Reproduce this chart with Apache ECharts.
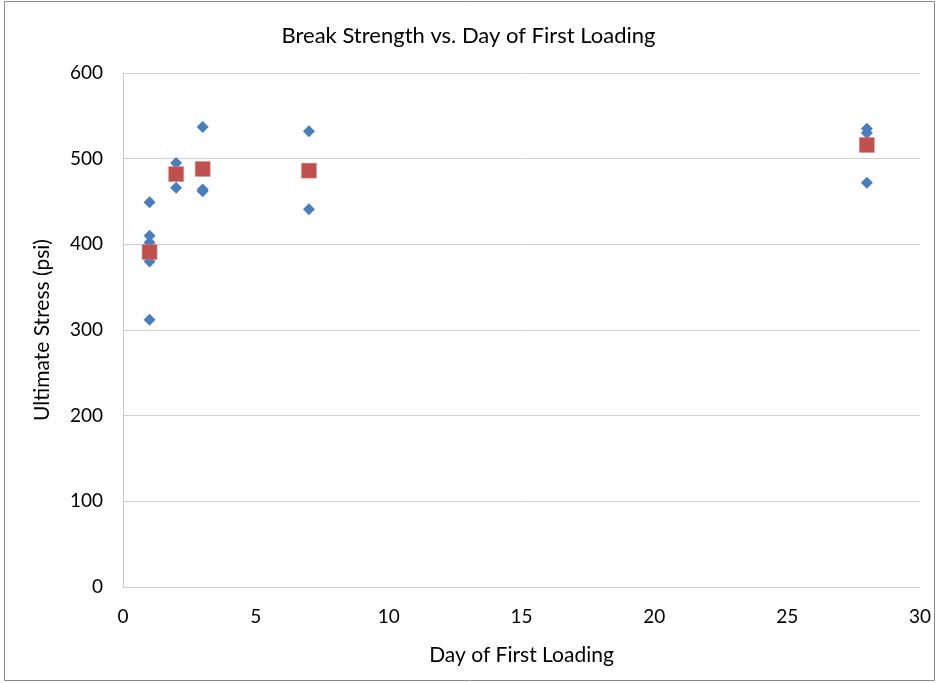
<!DOCTYPE html>
<html>
<head>
<meta charset="utf-8">
<script src="https://cdn.jsdelivr.net/npm/echarts@6/dist/echarts.min.js"></script>
<style>
  html, body { margin: 0; padding: 0; background: #fff; }
  #chart { width: 937px; height: 683px; }
</style>
</head>
<body>
<div id="chart"></div>
<script>
// individual test results: [day, stress]
const days = [1, 1, 1, 1, 1, 2, 2, 2, 3, 3, 3, 7, 7, 28, 28, 28, 28];
const stress = [449, 410, 402, 380, 312, 495, 483, 466, 537, 464, 462, 532, 441, 535, 530, 520, 472];

// averages per day
const avgDays = [1, 2, 3, 7, 28];
const avgStress = [391, 482, 488, 486, 516];

const font = 'Lato, "Open Sans", sans-serif';

let dom = document.getElementById('chart');
let myChart = echarts.init(dom);

let options = {
    animation: false,
    backgroundColor: '#fff',
    title: {
        text: 'Break Strength vs. Day of First Loading',
        left: 'center',
        top: 20,
        textStyle: { fontFamily: font, fontSize: 22, fontWeight: 'normal', color: '#000' }
    },
    graphic: [{
        type: 'rect',
        shape: { x: 4.5, y: 1.5, width: 930, height: 679 },
        style: { fill: 'none', stroke: '#8a8a8a', lineWidth: 1 },
        silent: true
    }],
    grid: { left: 123, right: 17, top: 73, bottom: 96 },
    xAxis: {
        type: 'value',
        min: 0, max: 30, interval: 5,
        name: 'Day of First Loading',
        nameLocation: 'middle',
        nameGap: 58,
        nameTextStyle: { fontFamily: font, fontSize: 21, color: '#000' },
        axisLine: { show: true, lineStyle: { color: '#c8c8c8', width: 1 } },
        axisTick: { show: false },
        axisLabel: { fontFamily: font, fontSize: 19, color: '#000', margin: 20 },
        splitLine: { show: false }
    },
    yAxis: {
        type: 'value',
        min: 0, max: 600, interval: 100,
        name: 'Ultimate Stress (psi)',
        nameLocation: 'middle',
        nameRotate: 90,
        nameGap: 70,
        nameTextStyle: { fontFamily: font, fontSize: 21, color: '#000' },
        axisLine: { show: true, lineStyle: { color: '#c8c8c8', width: 1 } },
        axisTick: { show: false },
        axisLabel: { fontFamily: font, fontSize: 19, color: '#000', margin: 20 },
        splitLine: { show: true, lineStyle: { color: '#d0d0d0', width: 1 } }
    },
    series: [{
        name: 'Tests',
        type: 'scatter',
        symbol: 'diamond',
        symbolSize: 12,
        itemStyle: { color: '#4a7ebb', opacity: 1 },
        data: days.map((d, i) => [d, stress[i]])
    }, {
        name: 'Average',
        type: 'scatter',
        symbol: 'rect',
        symbolSize: 15,
        itemStyle: { color: '#c0504d', opacity: 1, borderColor: '#d98886', borderWidth: 0.5 },
        data: avgDays.map((d, i) => [d, avgStress[i]])
    }]
};

myChart.setOption(options);
</script>
</body>
</html>
